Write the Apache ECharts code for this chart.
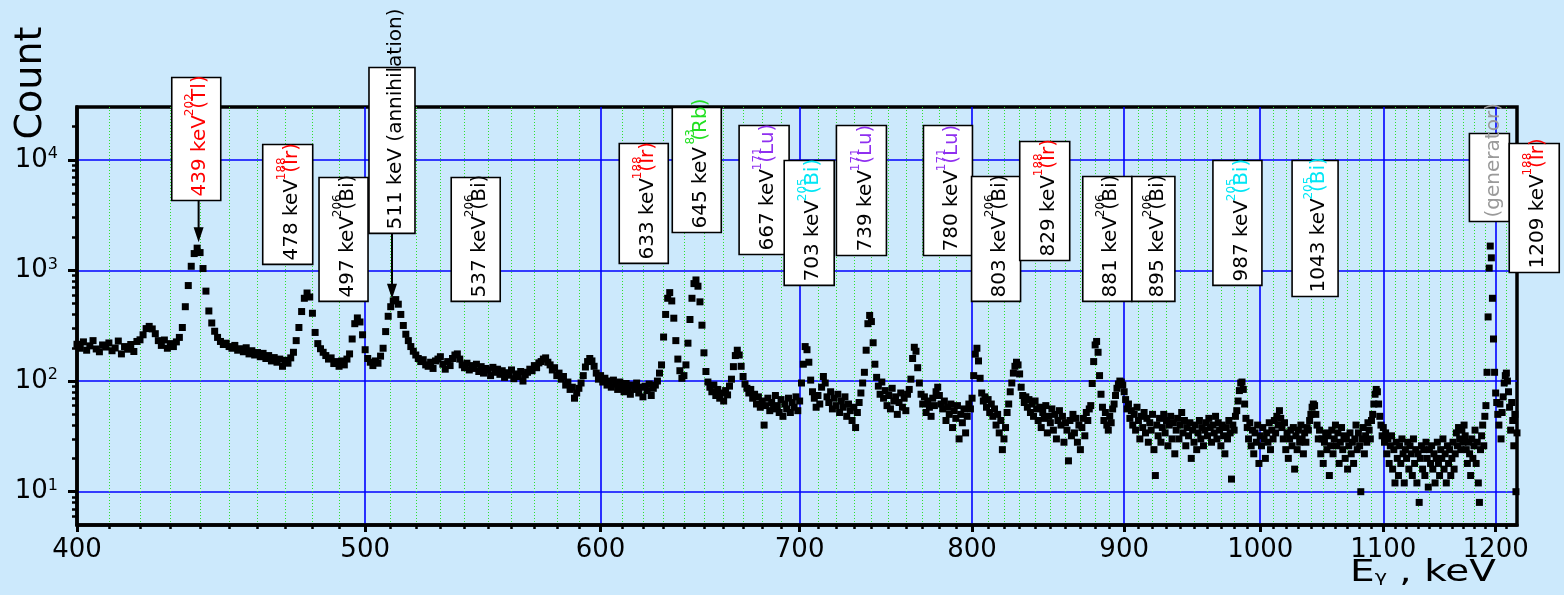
<!DOCTYPE html>
<html><head><meta charset="utf-8">
<script src="https://cdn.jsdelivr.net/npm/echarts@6/dist/echarts.min.js"></script>
<style>html,body{margin:0;padding:0;background:#cce9fc;}#chart{width:1564px;height:595px;}</style>
</head><body><div id="chart"></div>
<script>
// ---- spectrum: [energy keV, counts] ----
const spec400 = [[400,215],[401,198],[402,226],[403,190],[404,208],[405,232],[406,195],[407,184],[408,212],[409,203],
[410,221],[411,188],[412,199],[413,230],[414,176],[415,205],[416,194],[417,214],[418,185],[419,228],
[420,236],[421,262],[422,298],[423,312],[424,296],[425,268],[426,232],[427,210],[428,235],[429,198],
[430,218],[431,205],[432,226],[433,248],[434,305],[435,470],[436,730],[437,1090],[438,1420],[439,1590],
[440,1450],[441,1040],[442,650],[443,430],[444,335],[445,282],[446,248],[447,228],[448,214],[449,220],
[450,205],[451,198],[452,210],[453,190],[454,196],[455,184],[456,200],[457,176],[458,188],[459,172],
[460,181],[461,166],[462,178],[463,160],[464,170],[465,152],[466,163],[467,148],[468,158],[469,136],
[470,154],[471,145],[472,162],[473,182],[474,232],[475,305],[476,425],[477,560],[478,625],[479,575],
[480,410],[481,275],[482,218],[483,196],[484,182],[485,170],[486,158],[487,162],[488,144],[489,150],
[490,136],[491,152],[492,140],[493,158],[494,176],[495,240],[496,330],[497,372],[498,342],[499,262]];
const spec500 = [[500,192],[501,160],[502,148],[503,138],[504,152],[505,145],[506,168],[507,198],[508,280],[509,385],
[510,470],[511,530],[512,545],[513,495],[514,400],[515,318],[516,265],[517,232],[518,205],[519,186],
[520,172],[521,160],[522,150],[523,156],[524,140],[525,136],[526,148],[527,130],[528,152],[529,158],
[530,166],[531,142],[532,128],[533,150],[534,138],[535,160],[536,172],[537,176],[538,158],[539,140],
[540,132],[541,145],[542,126],[543,138],[544,130],[545,142],[546,122],[547,135],[548,118],[549,130],
[550,126],[551,112],[552,133],[553,120],[554,128],[555,115],[556,124],[557,108],[558,119],[559,113],
[560,126],[561,105],[562,116],[563,110],[564,122],[565,100],[566,114],[567,120],[568,128],[569,124],
[570,138],[571,132],[572,146],[573,150],[574,158],[575,162],[576,148],[577,140],[578,126],[579,132],
[580,112],[581,118],[582,104],[583,110],[584,92],[585,98],[586,84],[587,88],[588,70],[589,78],
[590,86],[591,96],[592,112],[593,134],[594,150],[595,160],[596,152],[597,136],[598,118],[599,104]];
const spec600 = [[600,112],[601,98],[602,106],[603,92],[604,100],[605,88],[606,102],[607,94],[608,84],[609,98],
[610,90],[611,80],[612,95],[613,86],[614,76],[615,92],[616,84],[617,96],[618,78],[619,88],
[620,72],[621,90],[622,82],[623,94],[624,74],[625,86],[626,92],[627,100],[628,118],[629,140],
[630,250],[631,400],[632,560],[633,630],[634,530],[635,370],[636,232],[637,158],[638,124],[639,106],
[640,112],[641,140],[642,220],[643,360],[644,560],[645,760],[646,820],[647,720],[648,520],[649,320],
[650,180],[651,122],[652,98],[653,88],[654,80],[655,92],[656,74],[657,84],[658,70],[659,78],
[660,66],[661,82],[662,75],[663,90],[664,104],[665,135],[666,170],[667,190],[668,172],[669,136],
[670,110],[671,94],[672,86],[673,78],[674,84],[675,70],[676,76],[677,62],[678,72],[679,58],
[680,66],[681,40],[682,60],[683,70],[684,54],[685,64],[686,56],[687,74],[688,60],[689,52],
[690,68],[691,48],[692,62],[693,56],[694,70],[695,52],[696,64],[697,58],[698,72],[699,54]];
const spec700 = [[700,66],[701,96],[702,142],[703,205],[704,192],[705,148],[706,102],[707,80],[708,70],[709,58],
[710,74],[711,62],[712,88],[713,110],[714,96],[715,72],[716,64],[717,80],[718,56],[719,70],
[720,60],[721,76],[722,52],[723,66],[724,58],[725,72],[726,48],[727,62],[728,54],[729,44],
[730,58],[731,38],[732,52],[733,64],[734,78],[735,96],[736,120],[737,190],[738,330],[739,392],
[740,345],[741,222],[742,142],[743,108],[744,90],[745,76],[746,98],[747,70],[748,82],[749,60],
[750,74],[751,56],[752,86],[753,66],[754,72],[755,50],[756,64],[757,78],[758,58],[759,70],
[760,54],[761,76],[762,84],[763,104],[764,160],[765,202],[766,186],[767,132],[768,96],[769,76],
[770,62],[771,72],[772,52],[773,66],[774,58],[775,48],[776,70],[777,60],[778,80],[779,88],
[780,74],[781,62],[782,56],[783,66],[784,44],[785,58],[786,50],[787,62],[788,38],[789,54],
[790,46],[791,60],[792,30],[793,50],[794,42],[795,56],[796,34],[797,48],[798,62],[799,56]];
const spec800 = [[800,70],[801,112],[802,175],[803,198],[804,152],[805,106],[806,78],[807,66],[808,72],[809,58],
[810,68],[811,52],[812,62],[813,48],[814,56],[815,40],[816,50],[817,34],[818,44],[819,24],
[820,30],[821,38],[822,52],[823,62],[824,80],[825,96],[826,118],[827,136],[828,148],[829,140],
[830,116],[831,88],[832,74],[833,64],[834,72],[835,58],[836,68],[837,52],[838,62],[839,48],
[840,66],[841,56],[842,44],[843,58],[844,38],[845,52],[846,46],[847,60],[848,34],[849,48],
[850,42],[851,56],[852,36],[853,50],[854,30],[855,44],[856,54],[857,40],[858,48],[859,28],
[860,42],[861,36],[862,19],[863,44],[864,32],[865,50],[866,34],[867,46],[868,28],[869,40],
[870,24],[871,38],[872,46],[873,32],[874,52],[875,44],[876,56],[877,60],[878,95],[879,150],
[880,212],[881,228],[882,182],[883,112],[884,76],[885,58],[886,44],[887,52],[888,40],[889,36],
[890,48],[891,42],[892,56],[893,62],[894,74],[895,86],[896,94],[897,100],[898,98],[899,92]];
const spec900 = [[900,80],[901,68],[902,56],[903,62],[904,46],[905,54],[906,40],[907,50],[908,36],[909,58],
[910,44],[911,30],[912,48],[913,38],[914,52],[915,34],[916,46],[917,28],[918,42],[919,36],
[920,50],[921,24],[922,14],[923,40],[924,32],[925,46],[926,28],[927,38],[928,50],[929,34],
[930,44],[931,26],[932,40],[933,48],[934,30],[935,42],[936,22],[937,36],[938,46],[939,30],
[940,40],[941,52],[942,34],[943,44],[944,26],[945,38],[946,32],[947,42],[948,20],[949,36],
[950,28],[951,40],[952,24],[953,34],[954,44],[955,30],[956,38],[957,26],[958,36],[959,42],
[960,32],[961,46],[962,38],[963,28],[964,40],[965,34],[966,48],[967,30],[968,42],[969,36],
[970,26],[971,40],[972,32],[973,22],[974,38],[975,30],[976,44],[977,34],[978,13],[979,40],
[980,36],[981,48],[982,54],[983,66],[984,82],[985,96],[986,98],[987,84],[988,62],[989,46],
[990,38],[991,30],[992,42],[993,26],[994,36],[995,22],[996,34],[997,28],[998,40],[999,18]];
const spec1000 = [[1000,32],[1001,26],[1002,38],[1003,30],[1004,20],[1005,34],[1006,28],[1007,42],[1008,24],[1009,36],
[1010,30],[1011,44],[1012,34],[1013,48],[1014,40],[1015,54],[1016,46],[1017,38],[1018,30],[1019,42],
[1020,24],[1021,34],[1022,20],[1023,30],[1024,36],[1025,26],[1026,38],[1027,16],[1028,32],[1029,24],
[1030,36],[1031,28],[1032,40],[1033,30],[1034,22],[1035,34],[1036,28],[1037,38],[1038,36],[1039,44],
[1040,50],[1041,58],[1042,62],[1043,60],[1044,50],[1045,40],[1046,30],[1047,36],[1048,22],[1049,30],
[1050,18],[1051,28],[1052,34],[1053,24],[1054,32],[1055,14],[1056,26],[1057,36],[1058,22],[1059,30],
[1060,40],[1061,26],[1062,34],[1063,18],[1064,28],[1065,38],[1066,24],[1067,32],[1068,20],[1069,30],
[1070,16],[1071,26],[1072,34],[1073,22],[1074,28],[1075,18],[1076,30],[1077,40],[1078,24],[1079,34],
[1080,26],[1081,10],[1082,30],[1083,38],[1084,22],[1085,32],[1086,28],[1087,42],[1088,36],[1089,30],
[1090,44],[1091,50],[1092,62],[1093,76],[1094,84],[1095,80],[1096,62],[1097,48],[1098,40],[1099,32]];
const spec1100 = [[1100,38],[1101,28],[1102,34],[1103,22],[1104,30],[1105,18],[1106,26],[1107,32],[1108,16],[1109,24],
[1110,12],[1111,28],[1112,20],[1113,14],[1114,26],[1115,18],[1116,30],[1117,22],[1118,12],[1119,24],
[1120,20],[1121,28],[1122,16],[1123,26],[1124,22],[1125,14],[1126,30],[1127,18],[1128,24],[1129,12],
[1130,22],[1131,8],[1132,20],[1133,26],[1134,16],[1135,24],[1136,14],[1137,28],[1138,20],[1139,11],
[1140,24],[1141,18],[1142,26],[1143,16],[1144,22],[1145,12],[1146,20],[1147,28],[1148,18],[1149,14],
[1150,24],[1151,20],[1152,30],[1153,16],[1154,22],[1155,12],[1156,26],[1157,18],[1158,24],[1159,14],
[1160,20],[1161,28],[1162,16],[1163,22],[1164,34],[1165,26],[1166,38],[1167,30],[1168,24],[1169,36],
[1170,28],[1171,40],[1172,32],[1173,24],[1174,18],[1175,28],[1176,22],[1177,14],[1178,30],[1179,20],
[1180,26],[1181,36],[1182,18],[1183,28],[1184,12],[1185,8],[1186,24],[1187,32],[1188,40],[1189,26],
[1190,48],[1191,60],[1192,120],[1193,380],[1194,1050],[1195,1660],[1196,1300],[1197,560],[1198,240],[1199,120],
[1200,78],[1201,64],[1202,50],[1203,40],[1204,62],[1205,30],[1206,52],[1207,72],[1208,96],[1209,112],
[1210,118],[1211,100],[1212,80],[1213,58],[1214,36],[1215,64],[1216,44],[1217,26],[1218,50],[1219,10],[1220,34]];

// ---- axis ticks ----
const xMajorTicks = [400,500,600,700,800,900,1000,1100,1200];
const xMinorTicks = [410,420,430,440,450,460,470,480,490,510,520,530,540,550,560,570,580,590,
610,620,630,640,650,660,670,680,690,710,720,730,740,750,760,770,780,790,810,820,830,840,850,860,870,880,890,
910,920,930,940,950,960,970,980,990,1010,1020,1030,1040,1050,1060,1070,1080,1090,
1110,1120,1130,1140,1150,1160,1170,1180,1190,1210];
const yMajorTicks = [10,100,1000,10000];
const yMinorTicks = [6,7,8,9,20,30,40,50,60,70,80,90,200,300,400,500,600,700,800,900,
2000,3000,4000,5000,6000,7000,8000,9000,20000];

// ---- peak annotations ----
const annText = ['439 keV ','478 keV ','497 keV ','511 keV (annihilation)','537 keV ','633 keV ','645 keV ','667 keV ','703 keV ','739 keV ','780 keV ','803 keV ','829 keV ','881 keV ','895 keV ','987 keV ','1043 keV ','(generator)','1209 keV '];
const annMass = ['202','188','206','','206','188','83','171','205','171','171','206','188','206','206','205','205','','188'];
const annElem = ['Tl','Ir','Bi','','Bi','Ir','Rb','Lu','Bi','Lu','Lu','Bi','Ir','Bi','Bi','Bi','Bi','','Ir'];
// layout of the boxes (energy of box centre, counts at box bottom / top)
const annBoxE = [438.7,470.9,491.7,510.5,544.7,620.4,646.4,681.0,705.2,734.3,785.2,815.0,846.3,888.3,920.6,982.5,1043.4,1194.2,1236.4];
const annBoxBottom = [4291,1133,525,2160,525,1157,2205,1395,732,1366,1366,525,1231,525,525,732,582,2772,959];
const annBoxTop = [55450,13755,6923,68290,6923,14045,29710,20430,9860,20430,20430,7070,14640,7070,7070,9860,9860,17290,14045];
const annBoxW = [49,50,49,46,49,49,49,50,50,50,49,49,50,49,43,49,46,40,50];
const RED='#ff0000', GRN='#22e022', PUR='#8f2ff0', CYA='#00e6f5', GRY='#9a9a9a', BLK='#000000';
const annMainColor = [RED,BLK,BLK,BLK,BLK,BLK,BLK,BLK,BLK,BLK,BLK,BLK,BLK,BLK,BLK,BLK,BLK,GRY,BLK];
const annIsoColor = [RED,RED,BLK,BLK,BLK,RED,GRN,PUR,CYA,PUR,PUR,BLK,RED,BLK,BLK,CYA,CYA,GRY,RED];
// arrows: energy, counts at tail, counts at tip
const arrowE = [439.5,510.5];
const arrowFrom = [4291,2160];
const arrowTo = [1802,555];

const FONT = '"DejaVu Sans", "Liberation Sans", sans-serif';
const ANN_FS = 20, SUP_FS = 12;
const LOG = v => Math.log10(v);
const mctx = document.createElement('canvas').getContext('2d');
function tw(str, size){ mctx.font = size + 'px ' + FONT; return mctx.measureText(str).width; }

const specData = [].concat(spec400,spec500,spec600,spec700,spec800,spec900,spec1000,spec1100)
  .map(p => [LOG(p[0]), LOG(p[1])]);
const annData = annBoxE.map((e,i) => [LOG(e), LOG(annBoxBottom[i]), LOG(annBoxTop[i]), i]);
const arrowData = arrowE.map((e,i) => [LOG(e), LOG(arrowFrom[i]), LOG(arrowTo[i])]);

const XMIN = LOG(400), XMAX = LOG(1220), YMIN = LOG(5), YMAX = LOG(30000);

function renderBox(params, api){
  const i = api.value(3);
  const b = api.coord([api.value(0), api.value(1)]);
  const t = api.coord([api.value(0), api.value(2)]);
  const w = annBoxW[i];
  const ax = b[0] + 4, ay = b[1] - 4;
  const iso = annElem[i] ? '(' + annElem[i] + ')' : '';
  const children = [
    {type:'rect', shape:{x:b[0]-w/2, y:t[1], width:w, height:b[1]-t[1]},
     style:{fill:'#ffffff', stroke:'#000000', lineWidth:1.6}},
    {type:'text', x:ax, y:ay, rotation:Math.PI/2,
     style:{text:'{m|' + annText[i] + '}' + (iso ? '{i|' + iso + '}' : ''),
       rich:{m:{fill:annMainColor[i], fontSize:ANN_FS, fontFamily:FONT},
             i:{fill:annIsoColor[i], fontSize:ANN_FS, fontFamily:FONT}},
       fontSize:ANN_FS, fontFamily:FONT, align:'left', verticalAlign:'middle'}}
  ];
  if (annMass[i]) {
    const off = tw(annText[i], ANN_FS) + tw('(', ANN_FS) / 2 - tw(annMass[i], SUP_FS) / 2;
    children.push({type:'text', x:ax - 10, y:ay - off, rotation:Math.PI/2,
      style:{text:annMass[i], fill:annIsoColor[i], fontSize:SUP_FS, fontFamily:FONT, align:'left', verticalAlign:'middle'}});
  }
  return {type:'group', children};
}
function renderArrow(params, api){
  const p0 = api.coord([api.value(0), api.value(1)]);
  const p1 = api.coord([api.value(0), api.value(2)]);
  return {type:'group', children:[
    {type:'line', shape:{x1:p0[0], y1:p0[1], x2:p1[0], y2:p1[1]-12}, style:{stroke:'#000', lineWidth:2}},
    {type:'polygon', shape:{points:[[p1[0]-5,p1[1]-15],[p1[0]+5,p1[1]-15],[p1[0],p1[1]]]}, style:{fill:'#000'}}
  ]};
}

const chart = echarts.init(document.getElementById('chart'), null, {renderer:'canvas'});
chart.setOption({
  backgroundColor:'#cce9fc',
  animation:false,
  grid:{left:77, right:47, top:107, bottom:70, show:true, borderColor:'#000', borderWidth:3.5, backgroundColor:'transparent'},
  xAxis:[{
    type:'value', position:'bottom', min:XMIN, max:XMAX,
    axisLine:{show:true, onZero:false, lineStyle:{color:'#000', width:3.5}},
    axisTick:{show:true, customValues:xMajorTicks.map(LOG), length:7, lineStyle:{color:'#000', width:3}},
    axisLabel:{show:true, customValues:xMajorTicks.map(LOG), formatter:v => String(Math.round(Math.pow(10, v))),
      fontSize:26, fontFamily:FONT, color:'#000', margin:12},
    splitLine:{show:true, lineStyle:{color:'#0000ff', width:1.6}}
  },{
    type:'value', position:'bottom', min:XMIN, max:XMAX,
    axisLine:{show:false, onZero:false},
    axisTick:{show:true, customValues:xMinorTicks.map(LOG), length:4, lineStyle:{color:'#000', width:2.5}},
    axisLabel:{show:false},
    splitLine:{show:true, lineStyle:{color:'#2ee02e', width:1, type:[1,2]}}
  }],
  yAxis:[{
    type:'value', position:'left', min:YMIN, max:YMAX,
    axisLine:{show:true, onZero:false, lineStyle:{color:'#000', width:3.5}},
    axisTick:{show:true, customValues:yMajorTicks.map(LOG), length:9, lineStyle:{color:'#000', width:3}},
    axisLabel:{show:true, customValues:yMajorTicks.map(LOG), margin:19,
      formatter:v => '{b|10}{s|' + Math.round(v) + '}',
      rich:{b:{fontSize:26, fontFamily:FONT, color:'#000'}, s:{fontSize:16, fontFamily:FONT, color:'#000', padding:[0,0,12,0]}}},
    splitLine:{show:true, lineStyle:{color:'#0000ff', width:1.6}}
  },{
    type:'value', position:'left', min:YMIN, max:YMAX,
    axisLine:{show:false, onZero:false},
    axisTick:{show:true, customValues:yMinorTicks.map(LOG), length:5, lineStyle:{color:'#000', width:2.5}},
    axisLabel:{show:false},
    splitLine:{show:false}
  }],
  graphic:[
    {type:'text', x:31, y:83, rotation:Math.PI/2, z:100,
     style:{text:'Count', fontSize:38, fontFamily:FONT, fill:'#000', align:'center', verticalAlign:'middle', textAlign:'center', textVerticalAlign:'middle'}},
    {type:'text', x:1350, y:573, scaleX:1.3, z:100,
     style:{text:'{e|E}{g|γ}{k| , keV}', align:'left', verticalAlign:'middle', textAlign:'left', textVerticalAlign:'middle',
       rich:{e:{fontSize:30, fontFamily:FONT, fill:'#000'}, g:{fontSize:16, fontFamily:FONT, fill:'#000', padding:[9,0,0,0]}, k:{fontSize:30, fontFamily:FONT, fill:'#000'}}}}
  ],
  series:[{
    type:'scatter', xAxisIndex:0, yAxisIndex:0, data:specData, symbol:'rect', symbolSize:7,
    itemStyle:{color:'#000000', opacity:1}, silent:true, z:3
  },{
    type:'custom', xAxisIndex:0, yAxisIndex:0, data:arrowData, renderItem:renderArrow,
    encode:{x:0, y:1}, silent:true, z:5, clip:false
  },{
    type:'custom', xAxisIndex:0, yAxisIndex:0, data:annData, renderItem:renderBox,
    encode:{x:0, y:1}, silent:true, z:10, clip:false
  }]
});
</script></body></html>
